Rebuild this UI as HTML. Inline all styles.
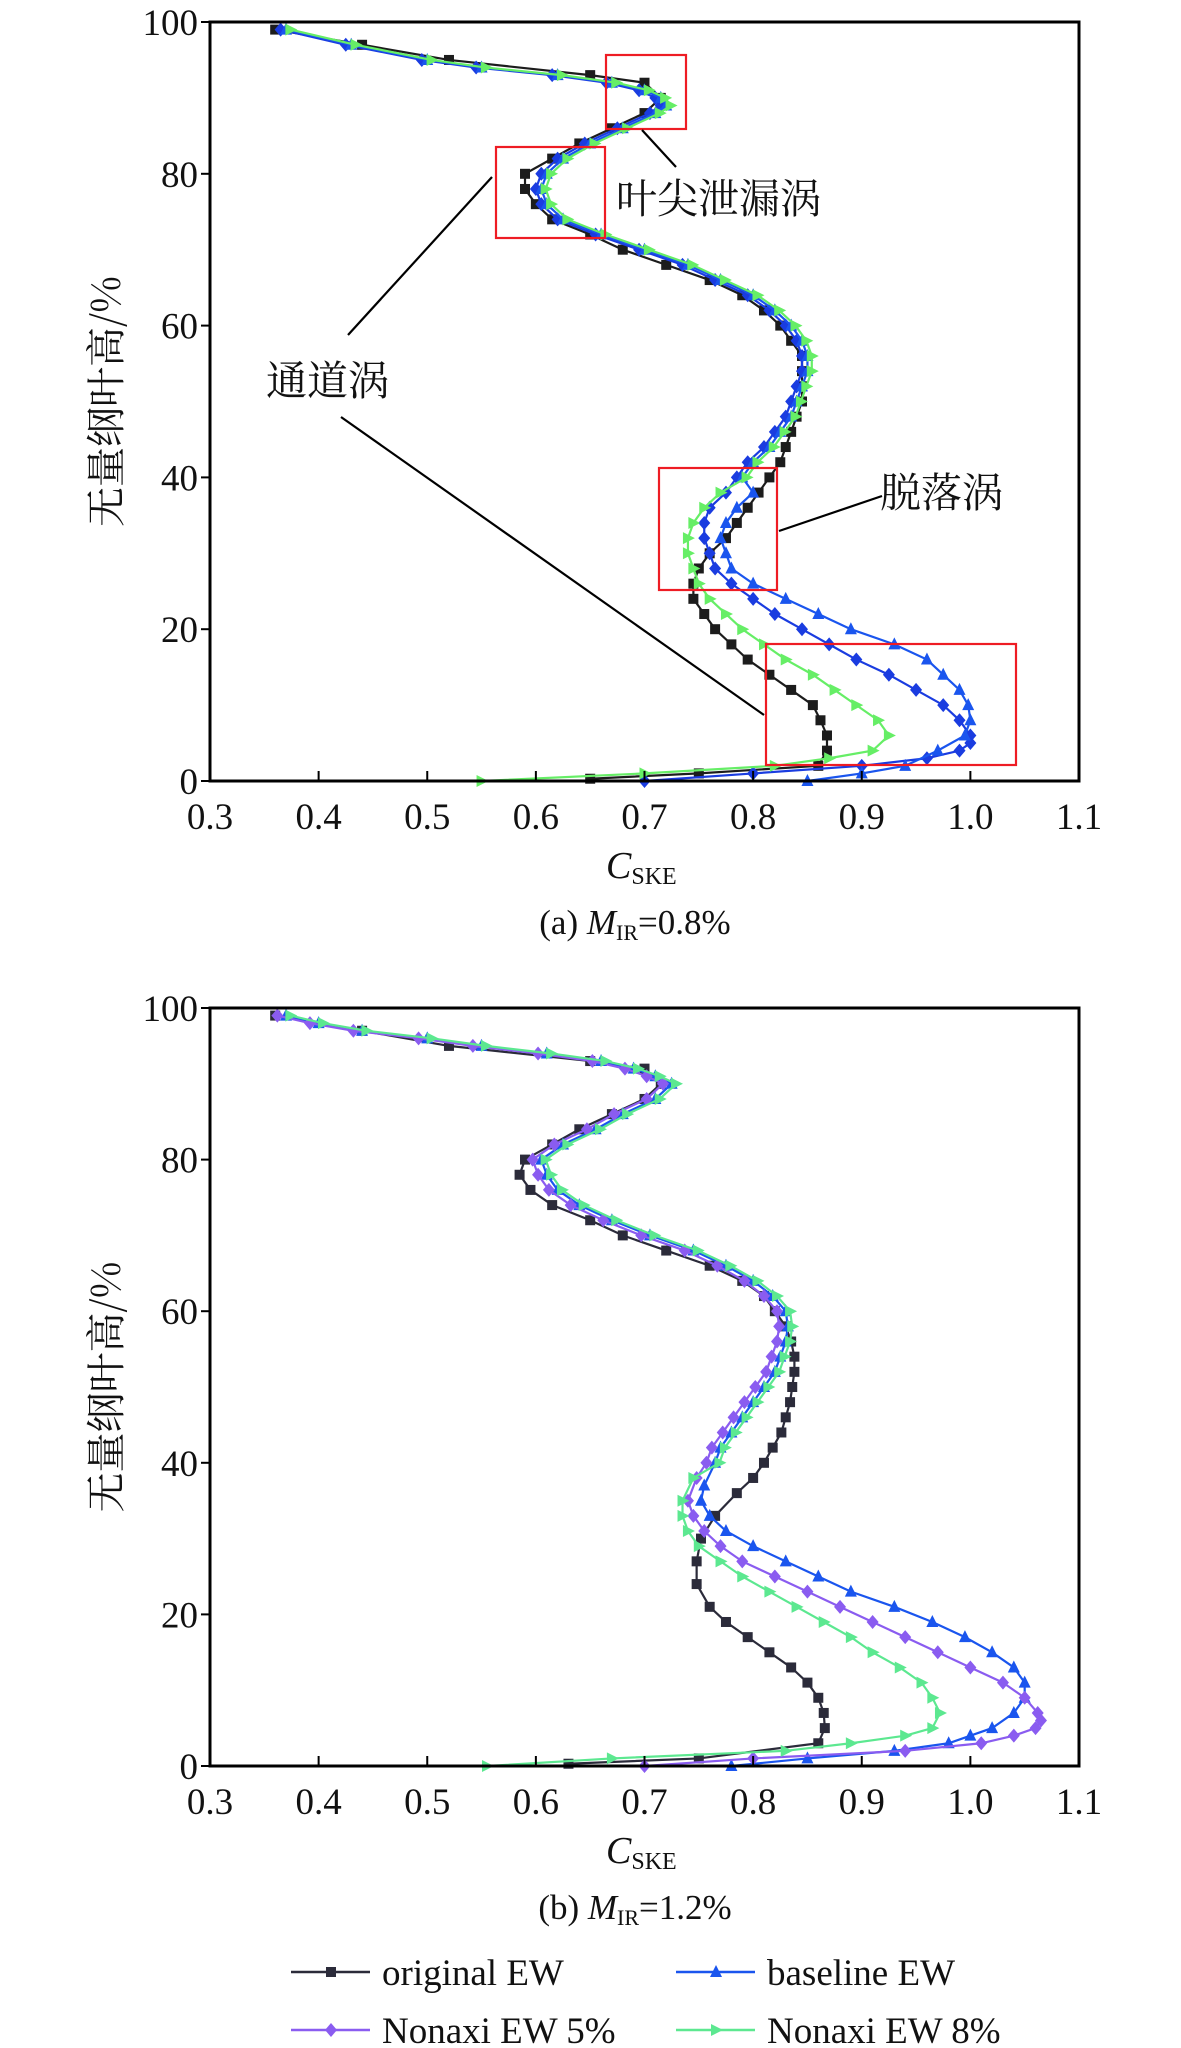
<!DOCTYPE html>
<html><head><meta charset="utf-8">
<style>
html,body{margin:0;padding:0;background:#fff;}
svg{display:block;}
text{font-family:"Liberation Serif","Noto Serif CJK SC",serif;fill:#111;}
.cjk{font-family:"Noto Serif CJK SC","Liberation Serif",serif;}
</style></head>
<body>
<svg id="chart" width="1181" height="2048" viewBox="0 0 1181 2048" xmlns="http://www.w3.org/2000/svg"></svg>
<script>
// ---- data (y = dimensionless span %, x = C_SKE) ----
const upperY = [99,97,95,94,93,92,91,90,89,88,86,84,82,80,78,76,74,72,70,68,66,64,62,60,58,56,54,52,50,48,46,44,42,40];
const upperX = [0.37,0.43,0.50,0.55,0.62,0.67,0.70,0.715,0.72,0.71,0.68,0.65,0.625,0.61,0.605,0.61,0.625,0.66,0.70,0.74,0.77,0.80,0.82,0.835,0.845,0.85,0.85,0.845,0.84,0.835,0.825,0.815,0.80,0.79];

const aOrigY = [99,97,95,93,92,90,88,86,84,82,80,78,76,74,72,70,68,66,64,62,60,58,56,54,52,50,48,46,44,42,40,38,36,34,32,30,28,26,24,22,20,18,16,14,12,10,8,6,4,2,1,0.3];
const aOrigX = [0.36,0.44,0.52,0.65,0.70,0.715,0.70,0.67,0.64,0.615,0.59,0.59,0.60,0.615,0.65,0.68,0.72,0.76,0.79,0.81,0.825,0.835,0.845,0.845,0.845,0.845,0.84,0.835,0.83,0.825,0.815,0.805,0.795,0.785,0.775,0.76,0.75,0.745,0.745,0.755,0.765,0.78,0.795,0.815,0.835,0.855,0.862,0.868,0.868,0.86,0.75,0.65];
const aBaseLowY = [38,36,34,32,30,28,26,24,22,20,18,16,14,12,10,8,6,4,2,1,0];
const aBaseLowX = [0.80,0.785,0.775,0.77,0.775,0.78,0.80,0.83,0.86,0.89,0.93,0.96,0.975,0.99,0.998,1.0,0.995,0.97,0.94,0.90,0.85];
const a5LowY = [38,36,34,32,30,28,26,24,22,20,18,16,14,12,10,8,6,5,4,3,2,1,0];
const a5LowX = [0.775,0.76,0.755,0.755,0.76,0.765,0.78,0.80,0.82,0.845,0.87,0.895,0.925,0.95,0.975,0.99,1.0,1.0,0.99,0.96,0.90,0.80,0.70];
const a8LowY = [38,36,34,32,30,28,26,24,22,20,18,16,14,12,10,8,6,4,3,2,1,0];
const a8LowX = [0.77,0.755,0.745,0.74,0.74,0.745,0.75,0.76,0.775,0.79,0.81,0.83,0.855,0.875,0.895,0.915,0.925,0.91,0.87,0.82,0.70,0.55];

const bOrigY = [99,97,95,93,92,90,88,86,84,82,80,78,76,74,72,70,68,66,64,62,60,58,56,54,52,50,48,46,44,42,40,38,36,33,30,27,24,21,19,17,15,13,11,9,7,5,3,1,0.3];
const bOrigX = [0.36,0.44,0.52,0.65,0.70,0.715,0.70,0.67,0.64,0.615,0.59,0.585,0.595,0.615,0.65,0.68,0.72,0.76,0.79,0.81,0.82,0.83,0.835,0.838,0.838,0.836,0.834,0.83,0.826,0.818,0.81,0.80,0.785,0.765,0.752,0.748,0.748,0.76,0.775,0.795,0.815,0.835,0.85,0.86,0.865,0.866,0.86,0.75,0.63];
const bUpperY = [99,98,97,96,95,94,93,92,91,90,88,86,84,82,80,78,76,74,72,70,68,66,64,62,60,58,56,54,52,50,48,46,44,42,40];
const bUpperX = [0.37,0.40,0.44,0.50,0.55,0.61,0.66,0.69,0.71,0.725,0.71,0.68,0.655,0.625,0.605,0.61,0.62,0.64,0.67,0.705,0.745,0.775,0.80,0.818,0.83,0.832,0.83,0.825,0.82,0.81,0.80,0.79,0.78,0.77,0.765];
const bBaseLowY = [37,35,33,31,29,27,25,23,21,19,17,15,13,11,9,7,5,4,3,2,1,0];
const bBaseLowX = [0.755,0.752,0.76,0.775,0.80,0.83,0.86,0.89,0.93,0.965,0.995,1.02,1.04,1.05,1.05,1.04,1.02,1.0,0.98,0.93,0.85,0.78];
const b5LowY = [38,35,33,31,29,27,25,23,21,19,17,15,13,11,9,7,6,5,4,3,2,1,0];
const b5LowX = [0.748,0.74,0.745,0.755,0.77,0.79,0.82,0.85,0.88,0.91,0.94,0.97,1.0,1.03,1.05,1.062,1.065,1.06,1.04,1.01,0.94,0.80,0.70];
const b8LowY = [38,35,33,31,29,27,25,23,21,19,17,15,13,11,9,7,5,4,3,2,1,0];
const b8LowX = [0.745,0.735,0.735,0.74,0.75,0.77,0.79,0.815,0.84,0.865,0.89,0.91,0.935,0.955,0.965,0.972,0.965,0.94,0.89,0.83,0.67,0.555];

const xTickLabels = ["0.3","0.4","0.5","0.6","0.7","0.8","0.9","1.0","1.1"];
const xTickVals = [0.3,0.4,0.5,0.6,0.7,0.8,0.9,1.0,1.1];
const yTickVals = [0,20,40,60,80,100];

const NS = "http://www.w3.org/2000/svg";
const svg = document.getElementById('chart');
function el(tag, attrs, parent){ const e=document.createElementNS(NS,tag); for(const k in attrs) e.setAttribute(k,attrs[k]); (parent||svg).appendChild(e); return e; }

const L=210, R=1079;
function mkX(v){ return L + (v-0.3)/0.8*(R-L); }

function marker(g, shape, x, y, color){
  let m;
  if(shape==='square'){ m=el('rect',{x:x-5,y:y-5,width:10,height:10,fill:color},g); }
  else if(shape==='up'){ m=el('polygon',{points:`${x},${y-7} ${x-6},${y+5} ${x+6},${y+5}`,fill:color},g); }
  else if(shape==='right'){ m=el('polygon',{points:`${x+7},${y} ${x-5},${y-6} ${x-5},${y+6}`,fill:color},g); }
  else { m=el('polygon',{points:`${x},${y-7} ${x+6},${y} ${x},${y+7} ${x-6},${y}`,fill:color},g); }
  
  
}

function drawSeries(panel, name, xs, ys, color, shape, mkY){
  const g = el('g',{},panel);
  
  
  const pts = xs.map((v,i)=>`${mkX(v)},${mkY(ys[i])}`).join(' ');
  el('polyline',{points:pts,fill:'none',stroke:color,'stroke-width':2.2},g);
  xs.forEach((v,i)=>marker(g,shape,mkX(v),mkY(ys[i]),color));
}

function drawPanel(id, top, bottom, series, caption, capNum){
  const panel = el('g',{});
  
  
  const mkY = v => bottom - v/100*(bottom-top);
  series.forEach(s=>drawSeries(panel,s.name,s.x,s.y,s.color,s.shape,mkY));
  const frame = el('rect',{x:L,y:top,width:R-L,height:bottom-top,fill:'none',stroke:'#000','stroke-width':3},panel);
   
  xTickVals.forEach((v,i)=>{
    el('line',{x1:mkX(v),x2:mkX(v),y1:bottom,y2:bottom-10,stroke:'#000','stroke-width':2},panel);
    const t=el('text',{x:mkX(v),y:bottom+48,'font-size':37,'text-anchor':'middle'},panel);
    t.textContent=xTickLabels[i];
     
  });
  yTickVals.forEach(v=>{
    el('line',{x1:L,x2:L-9,y1:mkY(v),y2:mkY(v),stroke:'#000','stroke-width':2},panel);
    const t=el('text',{x:L-12,y:mkY(v)+13,'font-size':37,'text-anchor':'end'},panel);
    t.textContent=String(v);
     
  });
  const xt=el('text',{x:606,y:bottom+97,'font-size':38,'text-anchor':'start'},panel);
  xt.innerHTML='<tspan font-style="italic">C</tspan><tspan font-size="24" dy="6">SKE</tspan>';
   
  const cy=(top+bottom)/2;
  const yt=el('text',{x:0,y:0,'font-size':40,'text-anchor':'middle',transform:`translate(120,${cy}) rotate(-90)`,class:'cjk'},panel);
  yt.textContent='无量纲叶高/%';
   
  const cap=el('text',{x:635,y:bottom+153,'font-size':35,'text-anchor':'middle'},panel);
  cap.innerHTML=caption+'<tspan font-style="italic">M</tspan><tspan font-size="22" dy="6">IR</tspan><tspan dy="-6">='+capNum+'%</tspan>';
   
  return mkY;
}

const C_ORIG_A='#1c1c1c', C_ORIG_B='#2b2b3a', C_BASE='#1a55ee', C_5A='#1a3ce0', C_5B='#8a5cf0', C_8='#5ce890';

drawPanel('panel-a',22,781,[
  {name:'series-original-ew-a',x:aOrigX,y:aOrigY,color:C_ORIG_A,shape:'square'},
  {name:'series-nonaxi-5-a',x:upperX.map(v=>v-0.005).concat(a5LowX),y:upperY.concat(a5LowY),color:C_5A,shape:'diamond'},
  {name:'series-baseline-ew-a',x:upperX.concat(aBaseLowX),y:upperY.concat(aBaseLowY),color:C_BASE,shape:'up'},
  {name:'series-nonaxi-8-a',x:upperX.map(v=>v+0.004).concat(a8LowX),y:upperY.concat(a8LowY),color:'#66ee66',shape:'right'}
],'(a) ','0.8');

drawPanel('panel-b',1008,1766,[
  {name:'series-original-ew-b',x:bOrigX,y:bOrigY,color:C_ORIG_B,shape:'square'},
  {name:'series-baseline-ew-b',x:bUpperX.concat(bBaseLowX),y:bUpperY.concat(bBaseLowY),color:C_BASE,shape:'up'},
  {name:'series-nonaxi-5-b',x:bUpperX.map(v=>v-0.008).concat(b5LowX),y:bUpperY.concat(b5LowY),color:C_5B,shape:'diamond'},
  {name:'series-nonaxi-8-b',x:bUpperX.map(v=>v+0.004).concat(b8LowX),y:bUpperY.concat(b8LowY),color:C_8,shape:'right'}
],'(b)  ','1.2');

// annotations panel a
const ann = el('g',{});
 
[[606,55,80,74],[496,147,109,91],[659,468,118,122],[766,644,250,121]].forEach(b=>{
  const r=el('rect',{x:b[0],y:b[1],width:b[2],height:b[3],fill:'none',stroke:'#ee1c24','stroke-width':2.2},ann);
   
});
[[642,130,676,167],[348,335,492,177],[341,417,764,715],[779,531,882,496]].forEach(l=>{
  const ln=el('line',{x1:l[0],y1:l[1],x2:l[2],y2:l[3],stroke:'#000','stroke-width':2.2},ann);
   
});
[['叶尖泄漏涡',616,213,'tip-leakage-vortex-label'],['通道涡',266,395,'passage-vortex-label'],['脱落涡',880,507,'shedding-vortex-label']].forEach(t=>{
  const tx=el('text',{x:t[1],y:t[2],'font-size':41,class:'cjk'},ann);
  tx.textContent=t[0];
   
});

// legend
const leg = el('g',{});
 
[['original EW',291,1972,C_ORIG_B,'square'],['baseline EW',676,1972,C_BASE,'up'],['Nonaxi EW 5%',291,2030,C_5B,'diamond'],['Nonaxi EW 8%',676,2030,C_8,'right']].forEach(e=>{
  const g=el('g',{},leg);
   
  el('line',{x1:e[1],x2:e[1]+79,y1:e[2],y2:e[2],stroke:e[3],'stroke-width':2.5},g);
  marker(g,e[4],e[1]+40,e[2],e[3]);
  const t=el('text',{x:e[1]+91,y:e[2]+13,'font-size':37},g);
  t.textContent=e[0];
});
</script>
</body></html>
